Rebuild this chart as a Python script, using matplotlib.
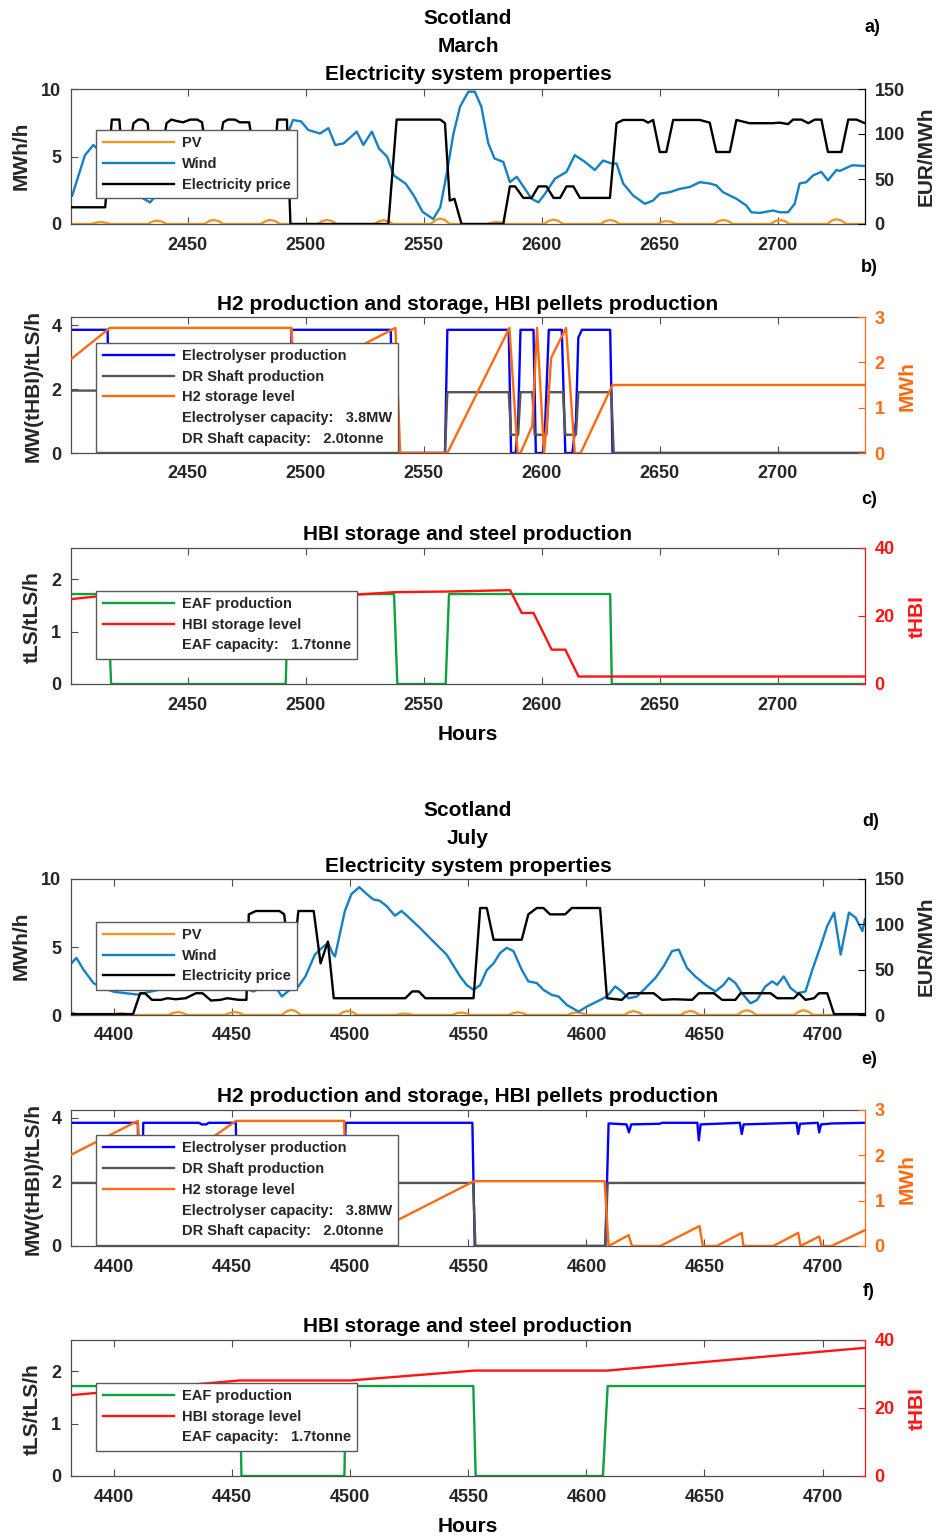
import matplotlib
matplotlib.use("Agg")
import matplotlib.pyplot as plt
from matplotlib.lines import Line2D

plt.rcParams["font.family"] = ["Liberation Sans", "DejaVu Sans"]
plt.rcParams["font.weight"] = "bold"

# ---------------- March (hours 2401-2737) ----------------
pv_mar_h = [2401, 2409, 2411, 2413, 2415, 2417,
            2433, 2435, 2437, 2439, 2441,
            2457, 2459, 2461, 2463, 2465,
            2481, 2483, 2485, 2487, 2489,
            2505, 2507, 2509, 2511, 2513,
            2529, 2531, 2533, 2535, 2537,
            2553, 2555, 2557, 2559, 2561,
            2577, 2579, 2581, 2583, 2585,
            2601, 2603, 2605, 2607, 2609,
            2625, 2627, 2629, 2631, 2633,
            2649, 2651, 2653, 2655, 2657,
            2673, 2675, 2677, 2679, 2681,
            2697, 2699, 2701, 2703, 2705,
            2721, 2723, 2725, 2727, 2729, 2737]
pv_mar_v = [0, 0, 0.1, 0.15, 0.1, 0,
            0, 0.18, 0.25, 0.18, 0,
            0, 0.22, 0.3, 0.22, 0,
            0, 0.22, 0.3, 0.22, 0,
            0, 0.22, 0.3, 0.22, 0,
            0, 0.2, 0.28, 0.2, 0,
            0, 0.3, 0.4, 0.3, 0,
            0, 0.1, 0.15, 0.1, 0,
            0, 0.24, 0.32, 0.24, 0,
            0, 0.22, 0.3, 0.22, 0,
            0, 0.16, 0.22, 0.16, 0,
            0, 0.22, 0.3, 0.22, 0,
            0, 0.22, 0.3, 0.22, 0,
            0, 0.26, 0.35, 0.26, 0, 0]

wind_mar_h = [2401, 2406.4, 2410, 2415, 2420, 2426, 2431, 2434, 2437, 2445, 2455, 2465,
              2475, 2485, 2493, 2494.6, 2498, 2501, 2506, 2509.6, 2512.5, 2516, 2521.6,
              2524.4, 2528, 2531, 2534.5, 2537.3, 2542.3, 2545.8, 2549.5, 2554, 2557,
              2559.7, 2562.6, 2565.4, 2568.9, 2571.6, 2574.4, 2577.3, 2580, 2583.7,
              2586.5, 2589.4, 2592.9, 2595.7, 2598.6, 2601.4, 2605.6, 2610.5, 2614,
              2618.3, 2622.5, 2626, 2629.6, 2631.7, 2634.5, 2638.8, 2643.7, 2647.2,
              2650, 2654.3, 2658.5, 2662.7, 2667, 2671.2, 2674, 2676.8, 2682.5, 2686.7,
              2688.8, 2692.4, 2698, 2700.8, 2704.4, 2707.2, 2709.3, 2712.1, 2715,
              2718.5, 2721.3, 2724.9, 2726.3, 2731.6, 2737]
wind_mar_v = [2.1, 5.1, 5.85, 5.0, 3.8, 2.6, 1.9, 1.6, 2.2, 3.5, 4.5, 5.2,
              6.0, 6.5, 6.97, 7.7, 7.6, 6.97, 6.7, 7.1, 5.85, 5.97, 6.84,
              5.85, 6.84, 5.6, 4.98, 3.6, 2.99, 2.1, 0.9, 0.37, 1.24,
              3.7, 6.7, 8.7, 9.8, 9.8, 8.7, 6.0, 4.85, 4.6,
              3.1, 3.5, 2.6, 1.87, 1.6, 2.24, 3.36, 3.86, 5.1,
              4.6, 4.0, 4.7, 4.48, 4.48, 3.0, 2.1, 1.5, 1.74,
              2.24, 2.36, 2.6, 2.74, 3.1, 3.0, 2.86, 2.36, 1.87, 1.37,
              0.87, 0.82, 1.0, 0.87, 0.87, 1.5, 3.0, 3.1, 3.6,
              3.86, 3.23, 4.0, 3.93, 4.35, 4.3]

price_mar_h = [2401, 2415, 2417.8, 2421, 2422, 2425, 2427, 2429, 2431, 2433, 2434, 2439,
               2441, 2443, 2446, 2448, 2451, 2454, 2456, 2458, 2463, 2465, 2467, 2470,
               2472, 2476, 2478, 2487, 2488, 2492, 2493.5, 2535, 2538.5, 2557, 2559,
               2561, 2563, 2566, 2583.7, 2586.5, 2588.7, 2592.2, 2595.7, 2598.6, 2602,
               2605, 2607.8, 2610.5, 2613.4, 2616.2, 2628.9, 2631.7, 2634.5, 2643,
               2645.1, 2647.2, 2650, 2652.8, 2655.7, 2667, 2671.2, 2674, 2679.7,
               2682.5, 2688, 2698, 2700.8, 2704.4, 2706.5, 2710, 2713, 2715.7, 2718.5,
               2721.3, 2727, 2729.9, 2733.4, 2737]
price_mar_v = [18.6, 18.6, 116, 116, 80, 80, 112, 116, 116, 112, 80, 80,
               112, 116, 114, 113, 116, 116, 113, 80, 80, 113, 116, 116,
               113, 113, 80, 80, 116, 116, 0, 0, 116, 116, 112,
               26, 28, 0, 0, 41.8, 41.8, 29, 29, 41.8, 41.8,
               29, 29, 41.8, 41.8, 29, 29, 112, 115.6, 115.6,
               112.6, 115.6, 80, 80, 115.6, 115.6, 112.6, 80, 80,
               115.6, 112, 112, 112.6, 111, 116, 116, 112, 116, 116,
               80, 80, 116, 116, 112]

elec_mar_h = [2401, 2416, 2417, 2493, 2494, 2536, 2537, 2559, 2560, 2586,
              2587, 2589, 2590, 2591, 2596.5, 2597.5, 2600.5, 2601.5, 2603, 2608.5,
              2610, 2613, 2614.5, 2615.5, 2617, 2629, 2630, 2737]
elec_mar_v = [3.85, 3.85, 0, 0, 3.85, 3.85, 0, 0, 3.85, 3.85,
              0, 0, 1.0, 3.85, 3.85, 0, 0, 1.0, 3.85, 3.85,
              0, 0, 1.0, 3.6, 3.85, 3.85, 0, 0]

shaft_mar_h = [2401, 2416, 2417, 2493, 2494, 2537, 2538, 2559, 2560, 2586, 2587, 2590,
               2591, 2596, 2597, 2602, 2603, 2609, 2610, 2614.5, 2615.5, 2629.5, 2630.5, 2737]
shaft_mar_v = [1.95, 1.95, 0, 0, 1.95, 1.95, 0, 0, 1.9, 1.9, 0.57, 0.57,
               1.9, 1.9, 0.57, 0.57, 1.9, 1.9, 0.57, 0.57, 1.9, 1.9, 0, 0]

h2_mar_h = [2401, 2417, 2494, 2495, 2538, 2540, 2560, 2586.3, 2589.8, 2591, 2596, 2598,
            2601, 2602, 2604, 2610.3, 2614, 2616.5, 2630, 2737]
h2_mar_v = [2.09, 2.76, 2.76, 1.6, 2.76, 0, 0, 2.76, 0, 0, 0.6, 2.76,
            0, 0.6, 2.1, 2.76, 0, 0, 1.5, 1.5]

eaf_mar_h = [2401, 2416, 2417.5, 2491.5, 2492.5, 2537.4, 2538.8, 2559.3, 2560.7, 2629, 2629.7, 2737]
eaf_mar_v = [1.72, 1.72, 0, 0, 1.72, 1.72, 0, 0, 1.72, 1.72, 0, 0]

hbi_mar_h = [2401, 2412, 2417, 2492, 2522, 2537.4, 2560, 2586.6, 2591.5, 2596.5, 2604.2, 2610, 2615.6, 2737]
hbi_mar_v = [25.0, 25.8, 25.9, 25.9, 26.3, 27.0, 27.2, 27.6, 20.9, 20.9, 10.1, 10.1, 2.2, 2.2]

# ---------------- July (hours 4382-4718) ----------------
pv_jul_h = [4382, 4383, 4385,
            4399, 4401, 4403, 4405, 4407,
            4423, 4425, 4427, 4429, 4431,
            4447, 4449, 4451, 4453, 4455,
            4471, 4473, 4475, 4477, 4479,
            4495, 4497, 4499, 4501, 4503,
            4519, 4521, 4523, 4525, 4527,
            4543, 4545, 4547, 4549, 4551,
            4567, 4569, 4571, 4573, 4575,
            4592, 4594, 4596, 4598, 4600,
            4616, 4618, 4620, 4622, 4624,
            4640, 4642, 4644, 4646, 4648,
            4664, 4666, 4668, 4670, 4672,
            4688, 4690, 4692, 4694, 4696, 4718]
pv_jul_v = [0.2, 0.12, 0,
            0, 0.08, 0.12, 0.08, 0,
            0, 0.15, 0.22, 0.15, 0,
            0, 0.15, 0.22, 0.15, 0,
            0, 0.27, 0.38, 0.27, 0,
            0, 0.21, 0.3, 0.21, 0,
            0, 0.07, 0.1, 0.07, 0,
            0, 0.13, 0.18, 0.13, 0,
            0, 0.14, 0.2, 0.14, 0,
            0, 0.14, 0.2, 0.14, 0,
            0, 0.2, 0.28, 0.2, 0,
            0, 0.21, 0.3, 0.21, 0,
            0, 0.25, 0.35, 0.25, 0,
            0, 0.25, 0.35, 0.25, 0, 0]

wind_jul_h = [4382, 4384, 4387, 4391.2, 4395, 4400, 4410, 4420, 4430, 4440, 4450, 4456,
              4459, 4463, 4467, 4471, 4474, 4478, 4481, 4485, 4488, 4490.6, 4492.6,
              4493.5, 4497.7, 4500.5, 4503.8, 4506.9, 4509.7, 4512.5, 4515.4, 4518.9,
              4521.7, 4524.6, 4529.5, 4535.2, 4540.8, 4546.5, 4549.3, 4552.2, 4555,
              4557.8, 4560.7, 4563.5, 4566.3, 4569.1, 4572.6, 4575.4, 4579, 4581.8,
              4585.3, 4588.2, 4591.7, 4596.7, 4600.2, 4604.5, 4608.7, 4612.2, 4615,
              4617.9, 4621.4, 4625, 4629.2, 4632.7, 4636.3, 4639.1, 4642.6, 4646.1,
              4650.4, 4654.6, 4658.1, 4660.3, 4663.1, 4665.9, 4669.5, 4672.3, 4675.8,
              4678.7, 4680.8, 4683.6, 4686.5, 4689.3, 4692.8, 4695.7, 4699.2, 4702,
              4704.9, 4707.7, 4711.2, 4714, 4716.9, 4718]
wind_jul_v = [3.83, 4.2, 3.33, 2.35, 2.0, 1.7, 1.5, 1.9, 2.5, 2.8, 2.3, 1.9,
              1.73, 2.1, 2.4, 1.36, 1.8, 2.1, 2.84, 4.44, 4.94, 5.3, 4.5,
              4.3, 7.65, 8.9, 9.4, 8.9, 8.5, 8.4, 8.0, 7.3,
              7.65, 7.2, 6.4, 5.4, 4.44, 2.84, 2.2, 1.85, 2.2,
              3.3, 3.8, 4.57, 4.94, 4.7, 3.33, 2.47, 2.35, 1.85,
              1.48, 1.36, 0.74, 0.25, 0.62, 0.99, 1.36, 2.1, 1.73,
              1.23, 1.36, 1.98, 2.72, 3.58, 4.7, 4.81, 3.46, 2.84,
              2.22, 1.73, 2.22, 2.72, 2.35, 1.6, 0.86, 1.11, 2.1,
              2.47, 2.22, 2.84, 1.98, 1.6, 1.73, 3.33, 5.06, 6.54,
              7.53, 4.44, 7.53, 7.16, 6.17, 7.04]

price_jul_h = [4382, 4408, 4411, 4413, 4416, 4419.8, 4422.6, 4426, 4430.3, 4434.6, 4437.4,
               4441, 4445, 4447.9, 4452.8, 4456, 4457, 4460, 4470, 4472, 4475, 4478,
               4484.5, 4487.4, 4490.5, 4493, 4523.3, 4526.2, 4529, 4531.8, 4552.2, 4555,
               4557.8, 4560.7, 4572.6, 4575.4, 4579, 4581.8, 4584.6, 4591, 4593.8,
               4605.8, 4608.7, 4615, 4617.9, 4628.5, 4632, 4637, 4644.8, 4647.6, 4654,
               4657.5, 4663.1, 4665.3, 4678, 4680.8, 4687.9, 4690, 4692.8, 4696.4,
               4698.5, 4702, 4704.9, 4718]
price_jul_v = [1, 1, 24, 24, 16.7, 16.7, 18.5, 17.4, 18.5, 24, 24,
               16, 16.7, 18.5, 16.7, 16.7, 111, 114.7, 114.7, 111, 40, 114.7,
               114.7, 57, 81, 18.5, 18.5, 26, 26, 18.5, 18.5, 118,
               118, 83, 83, 111, 118, 118, 111, 111, 118,
               118, 18.5, 16.7, 24, 24, 16.7, 17.4, 16.7, 24, 24,
               16.7, 16.7, 24, 24, 18.5, 18.5, 24, 16.7, 18.5,
               24, 24, 1, 1]

elec_jul_h = [4382, 4410, 4410.7, 4411.5, 4412.3, 4436, 4437, 4439, 4440, 4451.5,
              4452.5, 4497, 4498, 4551.7, 4552.7, 4608, 4609.4, 4617, 4618, 4619,
              4631, 4632, 4647, 4647.6, 4648.4, 4665, 4665.8, 4666.6, 4689, 4689.7,
              4690.5, 4698, 4698.6, 4699.4, 4704, 4718]
elec_jul_v = [3.85, 3.85, 0, 0, 3.85, 3.85, 3.8, 3.8, 3.85, 3.85,
              0, 0, 3.85, 3.85, 0, 0, 3.83, 3.8, 3.55, 3.8,
              3.82, 3.85, 3.85, 3.3, 3.8, 3.85, 3.5, 3.8, 3.85, 3.5,
              3.82, 3.85, 3.55, 3.8, 3.83, 3.85]

shaft_jul_h = [4382, 4452, 4453, 4497, 4498, 4552, 4553, 4608, 4609, 4718]
shaft_jul_v = [1.97, 1.97, 0, 0, 1.97, 1.97, 0, 0, 1.97, 1.97]

h2_jul_h = [4382, 4410, 4411.5, 4451.6, 4497.4, 4498.5, 4552.4, 4607.7, 4609.4, 4617.9,
            4619.3, 4631.3, 4647.9, 4649.3, 4655.2, 4665.8, 4666.5, 4679.2, 4689.7,
            4690.7, 4698.6, 4699.6, 4703.8, 4718]
h2_jul_v = [2.02, 2.76, 1.3, 2.76, 2.76, 0, 1.43, 1.43, 0, 0.24,
            0, 0, 0.44, 0, 0, 0.29, 0, 0, 0.29,
            0, 0.21, 0, 0, 0.35]

eaf_jul_h = [4382, 4453.2, 4453.9, 4497.5, 4498.2, 4552.1, 4553.1, 4607, 4609, 4718]
eaf_jul_v = [1.72, 1.72, 0, 0, 1.72, 1.72, 0, 0, 1.72, 1.72]

hbi_jul_h = [4382, 4453.2, 4499.9, 4552.4, 4608.7, 4718]
hbi_jul_v = [23.8, 28.1, 28.1, 31.0, 31.0, 37.7]

# ---------------- styling ----------------
C_PV = "#EE9A22"
C_WIND = "#1580C6"
C_PRICE = "#000000"
C_ELEC = "#0000FF"
C_SHAFT = "#555555"
C_H2 = "#FF6A10"
C_EAF = "#0FA040"
C_HBI = "#FF1414"
AXC = "#4d4d4d"
TXT = "#262626"
LW = 1.7

W, H = 937, 1537
fig = plt.figure(figsize=(W / 100, H / 100), dpi=100)


def fx(x):
    return x / W


def fy(y):
    return 1 - y / H


def make_axes(top, bottom):
    ax = fig.add_axes([fx(71), fy(bottom), (865 - 71) / W, (bottom - top) / H])
    ax2 = ax.twinx()
    return ax, ax2


def style(ax, ax2, xlim, xticks, ylim, yticks, ylim2, yticks2, rcolor):
    ax.set_xlim(*xlim)
    ax.set_xticks(xticks)
    ax.set_ylim(*ylim)
    ax.set_yticks(yticks)
    ax2.set_ylim(*ylim2)
    ax2.set_yticks(yticks2)
    ax.tick_params(axis="both", direction="in", length=5, width=0.8, color=AXC,
                   labelsize=13, labelcolor=TXT)
    ax.tick_params(axis="x", top=True, pad=9)
    ax.tick_params(axis="y", right=False, pad=7)
    ax2.tick_params(axis="y", direction="in", length=5, width=0.8, color=rcolor,
                    labelcolor=rcolor, labelsize=13, pad=7)
    for s in ["left", "top", "bottom"]:
        ax.spines[s].set_color(AXC)
        ax.spines[s].set_linewidth(0.9)
        ax2.spines[s].set_visible(False)
    ax.spines["right"].set_visible(False)
    ax2.spines["right"].set_color(rcolor)
    ax2.spines["right"].set_linewidth(0.9)


def add_legend(ax2, handles, labels, x, y):
    leg = ax2.legend(handles, labels, loc="upper left", bbox_to_anchor=(fx(x), fy(y)),
                     bbox_transform=fig.transFigure, borderaxespad=0, fontsize=10.5,
                     handlelength=4.9, handletextpad=0.5, borderpad=0.44,
                     labelspacing=0.46, fancybox=False, framealpha=1,
                     edgecolor="#5a5a5a")
    leg.get_frame().set_linewidth(1.0)
    for t in leg.get_texts():
        t.set_color(TXT)
    return leg


def vlabel(x, y, s, color=TXT, size=15):
    fig.text(fx(x), fy(y), s, rotation=90, ha="center", va="center",
             fontsize=size, color=color, fontweight="bold")


def label(x, y, s, size=15, color="black"):
    fig.text(fx(x), fy(y), s, ha="center", va="center", fontsize=size,
             color=color, fontweight="bold")


blank = Line2D([], [], linestyle="none")


def electricity_panel(top, bottom, xlim, xticks, pv_h, pv_v, w_h, w_v, p_h, p_v, leg_y):
    ax, ax2 = make_axes(top, bottom)
    l_pv, = ax.plot(pv_h, pv_v, color=C_PV, lw=LW)
    l_w, = ax.plot(w_h, w_v, color=C_WIND, lw=LW)
    l_p, = ax2.plot(p_h, p_v, color=C_PRICE, lw=LW)
    style(ax, ax2, xlim, xticks, (0, 10), [0, 5, 10], (0, 150), [0, 50, 100, 150], "black")
    ax2.tick_params(axis="y", labelcolor=TXT)
    add_legend(ax2, [l_pv, l_w, l_p], ["PV", "Wind", "Electricity price"], 96.5, leg_y)
    return ax, ax2


def h2_panel(top, bottom, xlim, xticks, e_h, e_v, s_h, s_v, h_h, h_v, leg_y):
    ax, ax2 = make_axes(top, bottom)
    l_e, = ax.plot(e_h, e_v, color=C_ELEC, lw=LW)
    l_s, = ax.plot(s_h, s_v, color=C_SHAFT, lw=LW)
    l_h, = ax2.plot(h_h, h_v, color=C_H2, lw=LW)
    style(ax, ax2, xlim, xticks, (0, 4.25), [0, 2, 4], (0, 3), [0, 1, 2, 3], C_H2)
    add_legend(ax2, [l_e, l_s, l_h, blank, blank],
               ["Electrolyser production", "DR Shaft production", "H2 storage level",
                "Electrolyser capacity:   3.8MW", "DR Shaft capacity:   2.0tonne"],
               96.5, leg_y)
    return ax, ax2


def steel_panel(top, bottom, xlim, xticks, f_h, f_v, b_h, b_v, leg_y):
    ax, ax2 = make_axes(top, bottom)
    l_f, = ax.plot(f_h, f_v, color=C_EAF, lw=LW)
    l_b, = ax2.plot(b_h, b_v, color=C_HBI, lw=LW)
    style(ax, ax2, xlim, xticks, (0, 2.6), [0, 1, 2], (0, 40), [0, 20, 40], C_HBI)
    add_legend(ax2, [l_f, l_b, blank],
               ["EAF production", "HBI storage level", "EAF capacity:   1.7tonne"],
               96.5, leg_y)
    return ax, ax2


mar_lim = (2400.5, 2737)
mar_ticks = [2450, 2500, 2550, 2600, 2650, 2700]
jul_lim = (4381.7, 4718)
jul_ticks = [4400, 4450, 4500, 4550, 4600, 4650, 4700]

# March block
electricity_panel(89, 224, mar_lim, mar_ticks, pv_mar_h, pv_mar_v, wind_mar_h, wind_mar_v,
                  price_mar_h, price_mar_v, 130)
h2_panel(317, 453, mar_lim, mar_ticks, elec_mar_h, elec_mar_v, shaft_mar_h, shaft_mar_v,
         h2_mar_h, h2_mar_v, 342.5)
steel_panel(548, 684, mar_lim, mar_ticks, eaf_mar_h, eaf_mar_v, hbi_mar_h, hbi_mar_v, 590.5)

# July block
electricity_panel(879, 1015, jul_lim, jul_ticks, pv_jul_h, pv_jul_v, wind_jul_h, wind_jul_v,
                  price_jul_h, price_jul_v, 921.5)
h2_panel(1110, 1246, jul_lim, jul_ticks, elec_jul_h, elec_jul_v, shaft_jul_h, shaft_jul_v,
         h2_jul_h, h2_jul_v, 1135)
steel_panel(1340, 1476, jul_lim, jul_ticks, eaf_jul_h, eaf_jul_v, hbi_jul_h, hbi_jul_v, 1382.5)

# titles and panel letters
label(468, 19, "Scotland")
label(468, 47, "March")
label(468, 74, "Electricity system properties")
label(468, 304, "H2 production and storage, HBI pellets production")
label(468, 535, "HBI storage and steel production")
label(468, 735, "Hours")
label(468, 811, "Scotland")
label(468, 839, "July")
label(468, 866, "Electricity system properties")
label(468, 1096, "H2 production and storage, HBI pellets production")
label(468, 1327, "HBI storage and steel production")
label(468, 1526, "Hours")

for (x, y, s) in [(872, 28, "a)"), (869, 268, "b)"), (869, 499, "c)"),
                  (871, 821, "d)"), (869, 1060, "e)"), (869, 1291, "f)")]:
    label(x, y, s, size=13)

# axis labels
for off in (0, 790):
    vlabel(21, 156 + off, "MWh/h")
    vlabel(926, 156 + off, "EUR/MWh")
for off in (0, 793):
    vlabel(33, 386 + off, "MW(tHBI)/tLS/h")
    vlabel(907, 386 + off, "MWh", color=C_H2)
for off in (0, 792):
    vlabel(32, 617 + off, "tLS/tLS/h")
    vlabel(917, 617 + off, "tHBI", color=C_HBI)

fig.savefig("out.png", dpi=100, facecolor="white")
